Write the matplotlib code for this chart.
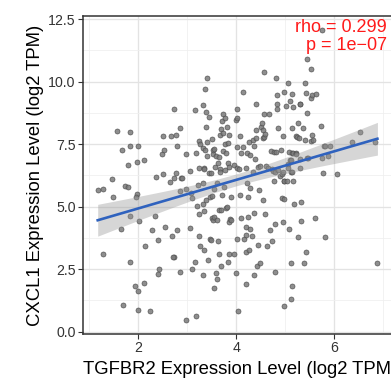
import numpy as np
import matplotlib
matplotlib.use("Agg")
import matplotlib.pyplot as plt
from matplotlib.ticker import MultipleLocator

plt.rcParams['font.family'] = ['Liberation Sans', 'DejaVu Sans']

# ---- data ----
tgfbr2 = [
    1.17, 1.28, 1.28, 1.46, 1.48, 1.57, 1.66, 1.65, 1.68, 1.72, 1.79, 1.78, 1.82, 1.83, 1.82, 1.82, 1.93, 1.97, 1.96, 1.98, 1.99, 1.99, 1.99,
    2.01, 2.12, 2.14, 2.12, 2.23, 2.28, 2.33, 2.36, 2.40, 2.40, 2.42, 2.49, 2.52, 2.51, 2.51,
    2.55, 2.65, 2.66, 2.69, 2.72, 2.73, 2.73, 2.71, 2.77, 2.77, 2.79, 2.79, 2.84, 2.85, 2.85, 2.88, 2.98, 2.98, 2.98, 2.90,
    3.05, 3.05, 3.07, 3.09, 3.10, 3.16, 3.17, 3.15, 3.17, 3.21, 3.20, 3.23, 3.24, 3.26, 3.24, 3.24, 3.25, 3.31, 3.32, 3.31, 3.32, 3.31,
    3.33, 3.34, 3.34, 3.33, 3.37, 3.38, 3.38, 3.36, 3.41, 3.41, 3.40, 3.39, 3.42, 3.45, 3.45, 3.47, 3.48, 3.47, 3.50, 3.50, 3.49,
    3.51, 3.52, 3.52, 3.53, 3.54, 3.55, 3.55, 3.56, 3.55, 3.58, 3.58, 3.60, 3.60, 3.61, 3.62, 3.63, 3.64, 3.65, 3.65, 3.67, 3.67, 3.67,
    3.68, 3.69, 3.69, 3.70, 3.70, 3.73, 3.73, 3.73, 3.74, 3.77, 3.77, 3.77, 3.78, 3.78, 3.80, 3.81, 3.84, 3.84, 3.84, 3.86, 3.86, 3.86,
    3.85, 3.88, 3.90, 3.90, 3.95, 3.96, 3.99,
    4.00, 4.01, 4.02, 4.01, 4.01, 4.01, 4.03, 4.05, 4.07, 4.07, 4.09, 4.10, 4.13, 4.14, 4.16, 4.19, 4.20, 4.20, 4.20, 4.20, 4.22, 4.22,
    4.24, 4.24, 4.25, 4.26, 4.27, 4.27, 4.28, 4.31, 4.33, 4.35, 4.36, 4.36, 4.36, 4.38, 4.40, 4.41, 4.41, 4.43, 4.45, 4.45, 4.47, 4.48,
    4.49, 4.50,
    4.52, 4.54, 4.55, 4.56, 4.55, 4.57, 4.57, 4.58, 4.59, 4.61, 4.62, 4.65, 4.67, 4.69, 4.71, 4.73, 4.73, 4.74, 4.76, 4.77, 4.79, 4.79,
    4.79, 4.80, 4.80, 4.82, 4.82, 4.82, 4.85, 4.86, 4.89, 4.91, 4.93, 4.93, 4.96, 4.96, 4.96, 4.97, 4.97, 4.97, 4.98, 4.98,
    5.01, 5.03, 5.05, 5.06, 5.06, 5.07, 5.07, 5.09, 5.10, 5.11, 5.12, 5.12, 5.12, 5.13, 5.13, 5.13, 5.14, 5.14, 5.15, 5.15, 5.16, 5.18,
    5.21, 5.21, 5.22, 5.23, 5.25, 5.26, 5.28, 5.29, 5.29, 5.30, 5.32, 5.31, 5.30, 5.37, 5.39, 5.41, 5.41, 5.42, 5.43, 5.44, 5.44, 5.44,
    5.46,
    5.52, 5.52, 5.53, 5.54, 5.55, 5.56, 5.60, 5.63, 5.73, 5.74, 5.75, 5.77, 5.78, 5.81, 5.82, 5.88, 5.91, 6.06, 6.37, 6.53, 6.83, 6.88,
]
cxcl1 = [
    5.67, 5.69, 3.11, 6.09, 5.40, 8.01, 7.28, 4.09, 1.05, 5.83, 5.79, 6.68, 7.97, 7.44, 4.61, 2.77, 1.83, 5.49, 5.37, 6.77, 7.43, 1.61, 0.88,
    4.41, 6.85, 3.44, 1.95, 0.83, 4.07, 4.64, 6.20, 3.67, 2.29, 2.52, 7.12, 7.25, 7.83, 6.32,
    4.20, 6.00, 7.81, 3.83, 6.16, 8.91, 2.99, 3.00, 7.88, 6.33, 7.43, 4.08, 5.64, 8.16, 2.37, 6.13, 7.12, 5.72, 0.47, 6.14,
    6.44, 4.16, 5.53, 2.52, 5.33, 8.85, 7.15, 2.80, 0.61, 5.87, 5.03, 4.69, 7.61, 7.50, 6.53, 3.84, 3.43, 7.35, 9.07, 5.93, 5.11, 2.25,
    6.54, 6.49, 4.83, 3.27, 9.72, 8.79, 8.19, 7.25, 10.15, 7.57, 7.03, 5.28, 2.88, 8.60, 6.33, 3.71, 6.33, 5.40, 4.53, 7.70, 3.65,
    5.43, 7.11, 7.27, 4.47, 7.29, 4.60, 1.73, 6.60, 5.70, 7.03, 2.36, 5.96, 2.12, 4.47, 3.63, 6.73, 3.09, 6.97, 4.85, 7.87, 6.52, 6.37,
    4.85, 8.12, 2.64, 8.44, 5.45, 8.69, 7.21, 7.95, 5.79, 8.55, 6.47, 7.50, 7.13, 4.93, 4.97, 8.19, 7.53, 6.73, 2.80, 7.88, 6.60, 3.09,
    4.38, 4.50, 5.40, 4.45, 3.09, 6.65, 2.36,
    8.45, 8.92, 8.56, 7.37, 6.53, 3.72, 0.83, 6.50, 7.83, 5.47, 4.53, 7.16, 7.40, 9.57, 3.72, 3.85, 6.56, 4.17, 3.17, 1.91, 7.15, 5.95,
    4.59, 5.37, 3.28, 7.60, 7.07, 5.76, 4.09, 3.83, 7.68, 6.37, 7.43, 4.76, 2.27, 6.90, 8.08, 7.76, 9.09, 2.61, 6.60, 3.47, 5.67, 2.75,
    6.64, 8.20,
    8.33, 8.08, 5.27, 10.37, 7.76, 8.69, 7.77, 7.89, 4.72, 6.61, 3.44, 6.56, 8.72, 4.08, 7.23, 6.50, 3.61, 6.43, 6.03, 7.20, 6.40, 4.31,
    2.39, 10.16, 7.19, 9.48, 9.12, 8.91, 8.15, 6.47, 6.24, 7.27, 6.29, 5.36, 7.83, 6.40, 4.38, 9.57, 6.03, 1.01, 5.29, 6.03,
    9.03, 6.03, 6.69, 9.96, 6.53, 7.20, 4.12, 9.24, 6.85, 6.87, 6.39, 2.75, 1.31, 9.49, 1.81, 6.37, 7.16, 8.16, 6.03, 8.97, 7.15, 5.11,
    7.13, 7.81, 7.10, 7.79, 3.80, 8.33, 7.76, 9.09, 6.53, 6.90, 5.19, 4.43, 9.12, 8.15, 2.75, 9.96, 7.67, 9.56, 3.17, 10.89, 8.73, 6.95,
    6.93,
    10.52, 9.36, 7.63, 9.45, 7.85, 7.68, 4.55, 9.52, 8.24, 12.06, 6.95, 6.36, 7.43, 3.80, 7.44, 7.01, 7.43, 6.30, 7.60, 7.99, 7.60, 2.73,
]
x_ticks = [2, 4, 6]
y_ticks = [0.0, 2.5, 5.0, 7.5, 10.0, 12.5]
x_label = "TGFBR2 Expression Level (log2 TPM)"
y_label = "CXCL1 Expression Level (log2 TPM)"
stat_lines = ["rho = 0.299", "p = 1e\u221207"]

x = np.array(tgfbr2)
y = np.array(cxcl1)

# ---- figure ----
W, H = 391, 381
fig = plt.figure(figsize=(W / 100, H / 100), dpi=100)
ax_left, ax_top, ax_bottom, ax_right = 83, 16, 334, 398
ax = fig.add_axes([ax_left / W, 1 - ax_bottom / H, (ax_right - ax_left) / W, (ax_bottom - ax_top) / H])
ax.set_xlim(0.87, 7.30)
ax.set_ylim(-0.09, 12.62)

# grid
ax.set_xticks(x_ticks)
ax.set_yticks(y_ticks)
ax.xaxis.set_minor_locator(MultipleLocator(1))
ax.yaxis.set_minor_locator(MultipleLocator(1.25))
ax.grid(which='major', color='#e3e3e3', lw=0.95, zorder=0)
ax.grid(which='minor', color='#efefef', lw=0.55, zorder=0)
ax.set_axisbelow(True)
ax.tick_params(which='minor', length=0)
ax.tick_params(which='major', length=3.3, width=0.8, color='#333333', labelsize=10.2,
               labelcolor='#333333', pad=2.0)
ax.set_yticklabels([f"{v:.1f}" for v in y_ticks])
for s in ax.spines.values():
    s.set_color('#333333')
    s.set_linewidth(1.1)

# stat text (drawn under the points)
tx = (387 - ax_left) / (ax_right - ax_left)
ax.text(tx, (ax_bottom - 32) / (ax_bottom - ax_top), stat_lines[0], transform=ax.transAxes,
        ha='right', va='baseline', color='#ff1a1a', fontsize=13, zorder=1)
ax.text(tx, (ax_bottom - 50.3) / (ax_bottom - ax_top), stat_lines[1], transform=ax.transAxes,
        ha='right', va='baseline', color='#ff1a1a', fontsize=13, zorder=1)

# points
ax.scatter(x, y, s=13, facecolor='#7a7a7a', edgecolor='#4a4a4a', linewidth=0.5, alpha=0.85, zorder=3)

# linear fit with 95% CI
coef = np.polyfit(x, y, 1)
xs = np.linspace(x.min(), x.max(), 100)
ys = np.polyval(coef, xs)
n = len(x)
resid = y - np.polyval(coef, x)
s_err = np.sqrt(np.sum(resid ** 2) / (n - 2))
se = s_err * np.sqrt(1 / n + (xs - x.mean()) ** 2 / np.sum((x - x.mean()) ** 2))
tq = 1.967
ax.fill_between(xs, ys - tq * se, ys + tq * se, color='#999999', alpha=0.4, lw=0, zorder=4)
ax.plot(xs, ys, color='#2f62be', lw=1.9, zorder=5)

# labels
ax.set_xlabel(x_label, fontsize=13.3, color='black')
ax.set_ylabel(y_label, fontsize=13.3, color='black')
ax.xaxis.set_label_coords(((ax_left + ax_right) / 2 - ax_left) / (ax_right - ax_left),
                          (ax_bottom - 361) / (ax_bottom - ax_top))
ax.yaxis.set_label_coords((44 - ax_left) / (ax_right - ax_left), 0.5)

fig.savefig("out.png", dpi=100)
